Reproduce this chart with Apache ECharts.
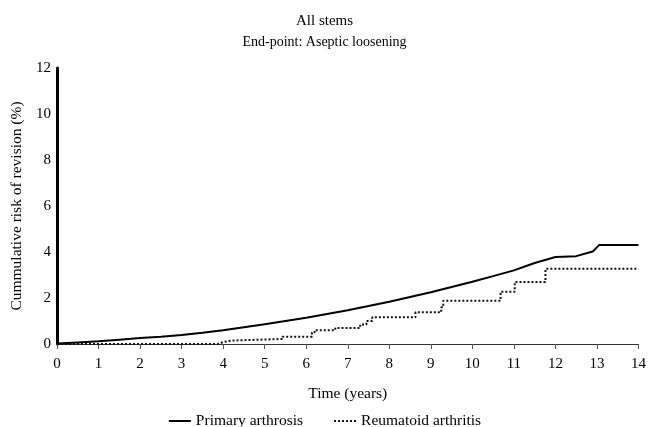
<!DOCTYPE html>
<html>
<head>
<meta charset="utf-8">
<script src="https://cdn.jsdelivr.net/npm/echarts@6/dist/echarts.min.js"></script>
<style>
  html, body { margin: 0; padding: 0; background: #fff; }
  #chart { width: 649px; height: 427px; }
</style>
</head>
<body>
<div id="chart"></div>
<script>
  // Primary arthrosis (solid)
  var paTime = [0, 0.5, 1, 1.5, 2, 2.5, 3, 3.5, 4, 4.5, 5, 5.5, 6, 6.5, 7, 7.5, 8, 8.5, 9, 9.5, 10, 10.5, 11, 11.5, 12, 12.5, 12.9, 13.05, 14]
  var paRisk = [0.02, 0.07, 0.12, 0.19, 0.26, 0.32, 0.39, 0.49, 0.6, 0.73, 0.86, 1.0, 1.14, 1.3, 1.47, 1.65, 1.84, 2.04, 2.25, 2.48, 2.71, 2.95, 3.2, 3.52, 3.78, 3.82, 4.02, 4.3, 4.3]

  // Reumatoid arthritis (dotted, step)
  var raTime = [0, 3.87, 4.0, 4.19, 5.43, 6.14, 6.2, 6.7, 7.3, 7.45, 7.59, 8.63, 9.25, 9.3, 10.68, 11.02, 11.76, 14]
  var raRisk = [0, 0.08, 0.15, 0.22, 0.32, 0.5, 0.6, 0.7, 0.85, 1.0, 1.16, 1.38, 1.6, 1.88, 2.27, 2.7, 3.27, 3.27]

  var seriesNames = ['Primary arthrosis', 'Reumatoid arthritis']

  function pairs(xs, ys) {
    return xs.map(function (x, i) { return [x, ys[i]] })
  }

  var font = 'Liberation Serif'
  var myChart = echarts.init(document.getElementById('chart'))
  var option = {
    animation: false,
    textStyle: { fontFamily: font, color: '#000' },
    title: [
      { text: 'All stems', left: 'center', top: 9,
        textStyle: { fontFamily: font, fontSize: 15, fontWeight: 'normal', color: '#000' } },
      { text: 'End-point: Aseptic loosening', left: 'center', top: 30,
        textStyle: { fontFamily: font, fontSize: 14, fontWeight: 'normal', color: '#000' } }
    ],
    legend: {
      data: seriesNames,
      top: 408,
      left: 'center',
      itemWidth: 22,
      itemHeight: 10,
      itemGap: 30,
      itemStyle: { opacity: 0 },
      textStyle: { fontFamily: font, fontSize: 15.5, color: '#000' }
    },
    grid: { left: 57, right: 8, top: 68, bottom: 83 },
    xAxis: {
      type: 'value',
      min: 0, max: 14, interval: 1,
      name: 'Time (years)',
      nameLocation: 'middle',
      nameGap: 42,
      nameTextStyle: { fontFamily: font, fontSize: 15.5, color: '#000' },
      axisLine: { lineStyle: { color: '#333', width: 1 } },
      axisTick: { length: 5, lineStyle: { color: '#555' } },
      axisLabel: { fontFamily: font, fontSize: 15, color: '#000', margin: 13 },
      splitLine: { show: false }
    },
    yAxis: {
      type: 'value',
      min: 0, max: 12, interval: 2,
      name: 'Cummulative risk of revision (%)',
      nameLocation: 'middle',
      nameGap: 31,
      nameTextStyle: { fontFamily: font, fontSize: 15.5, color: '#000' },
      axisLine: { show: true, lineStyle: { color: '#000', width: 3 } },
      axisTick: { show: false },
      axisLabel: { fontFamily: font, fontSize: 15, color: '#000', margin: 6 },
      splitLine: { show: false }
    },
    series: [
      {
        name: seriesNames[0],
        type: 'line',
        symbol: 'none',
        data: pairs(paTime, paRisk),
        lineStyle: { color: '#000', width: 2 },
        itemStyle: { color: '#000' }
      },
      {
        name: seriesNames[1],
        type: 'line',
        step: 'end',
        symbol: 'none',
        data: pairs(raTime, raRisk),
        lineStyle: { color: '#111', width: 2, type: [2, 2] },
        itemStyle: { color: '#111' }
      }
    ]
  }
  myChart.setOption(option)
</script>
</body>
</html>
